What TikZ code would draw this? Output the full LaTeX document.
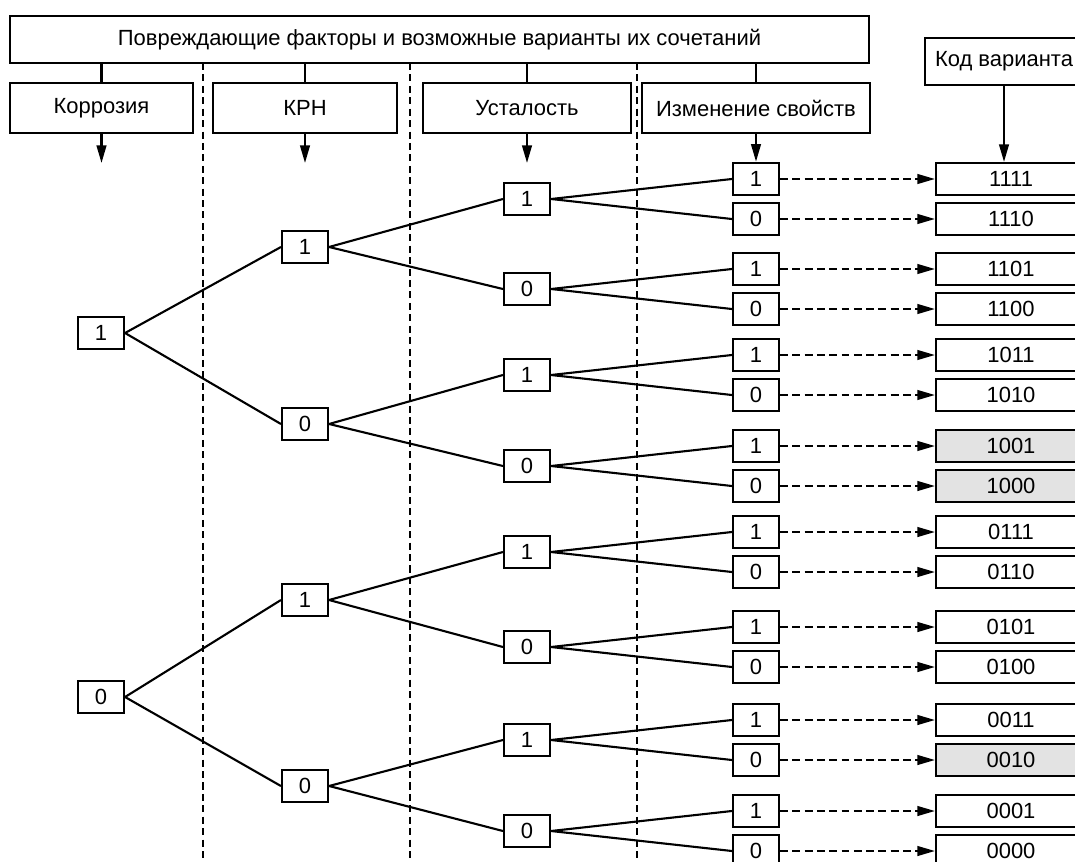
\documentclass[tikz,border=0pt]{standalone}
\usepackage{fontspec}
\setmainfont{Liberation Sans}
\usetikzlibrary{arrows.meta}

\begin{document}
\begin{tikzpicture}[x=0.02cm, y=-0.02cm, line width=1.2pt,
  font=\fontsize{12.5}{15}\selectfont,
  head/.style={draw, minimum height=1cm, inner sep=0pt},
  bit/.style={draw, minimum width=0.92cm, minimum height=0.65cm, inner sep=0pt},
  code/.style={draw, minimum width=3cm, minimum height=0.64cm, inner sep=0pt},
  marked/.style={code, fill=gray!22},
  arr/.style={-{Triangle[length=10pt,width=5.5pt]}},
  darr/.style={arr, dash pattern=on 4.5pt off 2.5pt},
  sep/.style={dash pattern=on 4pt off 2.5pt}]
\clip (0,0) rectangle (1075,862);

% headings
\node[head, minimum width=17.18cm, minimum height=0.94cm] (top) at (439.5,39.5) {Повреждающие факторы и возможные варианты их сочетаний};
\node[head, minimum width=3.66cm] (cor) at (101.5,108) {Коррозия};
\node[head, minimum width=3.68cm] (krn) at (305,108) {КРН};
\node[head, minimum width=4.16cm] (ust) at (527,108) {Усталость};
\node[head, minimum width=4.56cm] (izm) at (756,108) {Изменение свойств};
\node[head, minimum width=3.16cm, minimum height=0.94cm] (kod) at (1004,61.5) {Код варианта};

\coordinate (corend) at (101.5,163);
\coordinate (krnend) at (305,163);
\coordinate (ustend) at (527,163);

% separators
\draw[sep] (203,63) -- (203,862);
\draw[sep] (410,63) -- (410,862);
\draw[sep] (637,63) -- (637,862);

% level 1
\node[bit] (n1) at (101,333) {1};
\node[bit] (n0) at (101,697) {0};
% level 2
\node[bit] (n11) at (305,247) {1};
\node[bit] (n10) at (305,424) {0};
\node[bit] (n01) at (305,600) {1};
\node[bit] (n00) at (305,786) {0};
% level 3
\node[bit] (n111) at (527,199) {1};
\node[bit] (n110) at (527,289) {0};
\node[bit] (n101) at (527,375) {1};
\node[bit] (n100) at (527,466) {0};
\node[bit] (n011) at (527,552) {1};
\node[bit] (n010) at (527,647) {0};
\node[bit] (n001) at (527,740) {1};
\node[bit] (n000) at (527,831) {0};
% level 4
\node[bit] (n1111) at (756,179) {1};
\node[bit] (n1110) at (756,219) {0};
\node[bit] (n1101) at (756,269) {1};
\node[bit] (n1100) at (756,309) {0};
\node[bit] (n1011) at (756,355) {1};
\node[bit] (n1010) at (756,395) {0};
\node[bit] (n1001) at (756,446) {1};
\node[bit] (n1000) at (756,486) {0};
\node[bit] (n0111) at (756,532) {1};
\node[bit] (n0110) at (756,572) {0};
\node[bit] (n0101) at (756,627) {1};
\node[bit] (n0100) at (756,667) {0};
\node[bit] (n0011) at (756,720) {1};
\node[bit] (n0010) at (756,760) {0};
\node[bit] (n0001) at (756,811) {1};
\node[bit] (n0000) at (756,851) {0};
% codes
\node[code] (c1111) at (1011,179) {1111};
\node[code] (c1110) at (1011,219) {1110};
\node[code] (c1101) at (1011,269) {1101};
\node[code] (c1100) at (1011,309) {1100};
\node[code] (c1011) at (1011,355) {1011};
\node[code] (c1010) at (1011,395) {1010};
\node[marked] (c1001) at (1011,446) {1001};
\node[marked] (c1000) at (1011,486) {1000};
\node[code] (c0111) at (1011,532) {0111};
\node[code] (c0110) at (1011,572) {0110};
\node[code] (c0101) at (1011,627) {0101};
\node[code] (c0100) at (1011,667) {0100};
\node[code] (c0011) at (1011,720) {0011};
\node[marked] (c0010) at (1011,760) {0010};
\node[code] (c0001) at (1011,811) {0001};
\node[code] (c0000) at (1011,851) {0000};

% heading links
\draw (top.south -| cor.north) -- (cor.north);
\draw (top.south -| krn.north) -- (krn.north);
\draw (top.south -| ust.north) -- (ust.north);
\draw (top.south -| izm.north) -- (izm.north);
\draw[arr] (cor.south) -- (corend);
\draw[arr] (krn.south) -- (krnend);
\draw[arr] (ust.south) -- (ustend);
\draw[arr] (izm.south) -- (n1111.north);
\draw[arr] (kod.south) -- (kod.south |- c1111.north);

% tree
\draw (n1.east) -- (n11.west) (n1.east) -- (n10.west);
\draw (n0.east) -- (n01.west) (n0.east) -- (n00.west);
\draw (n11.east) -- (n111.west) (n11.east) -- (n110.west);
\draw (n10.east) -- (n101.west) (n10.east) -- (n100.west);
\draw (n01.east) -- (n011.west) (n01.east) -- (n010.west);
\draw (n00.east) -- (n001.west) (n00.east) -- (n000.west);
\draw (n111.east) -- (n1111.west) (n111.east) -- (n1110.west);
\draw (n110.east) -- (n1101.west) (n110.east) -- (n1100.west);
\draw (n101.east) -- (n1011.west) (n101.east) -- (n1010.west);
\draw (n100.east) -- (n1001.west) (n100.east) -- (n1000.west);
\draw (n011.east) -- (n0111.west) (n011.east) -- (n0110.west);
\draw (n010.east) -- (n0101.west) (n010.east) -- (n0100.west);
\draw (n001.east) -- (n0011.west) (n001.east) -- (n0010.west);
\draw (n000.east) -- (n0001.west) (n000.east) -- (n0000.west);

% variants
\draw[darr] (n1111.east) -- (c1111.west);
\draw[darr] (n1110.east) -- (c1110.west);
\draw[darr] (n1101.east) -- (c1101.west);
\draw[darr] (n1100.east) -- (c1100.west);
\draw[darr] (n1011.east) -- (c1011.west);
\draw[darr] (n1010.east) -- (c1010.west);
\draw[darr] (n1001.east) -- (c1001.west);
\draw[darr] (n1000.east) -- (c1000.west);
\draw[darr] (n0111.east) -- (c0111.west);
\draw[darr] (n0110.east) -- (c0110.west);
\draw[darr] (n0101.east) -- (c0101.west);
\draw[darr] (n0100.east) -- (c0100.west);
\draw[darr] (n0011.east) -- (c0011.west);
\draw[darr] (n0010.east) -- (c0010.west);
\draw[darr] (n0001.east) -- (c0001.west);
\draw[darr] (n0000.east) -- (c0000.west);
\end{tikzpicture}
\end{document}
